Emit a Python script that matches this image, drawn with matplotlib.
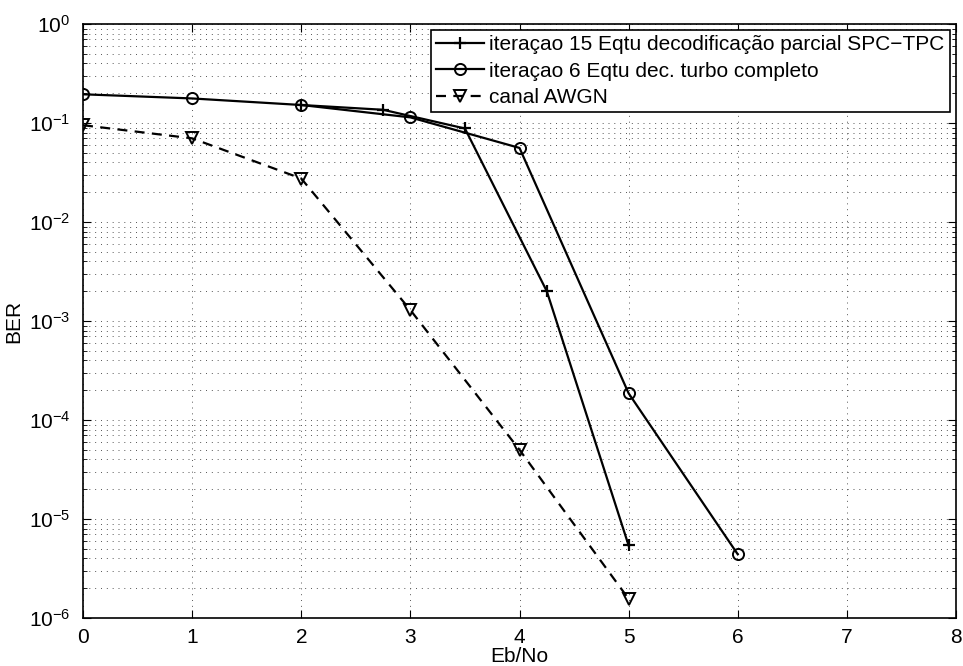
import matplotlib
matplotlib.use("Agg")
import matplotlib.pyplot as plt
from matplotlib.ticker import LogLocator, FixedLocator, NullFormatter

plt.rcParams['font.family'] = ['Liberation Sans', 'DejaVu Sans']
plt.rcParams['mathtext.fontset'] = 'custom'
plt.rcParams['mathtext.rm'] = 'Liberation Sans'
plt.rcParams['mathtext.it'] = 'Liberation Sans'
plt.rcParams['mathtext.default'] = 'regular'

# Data
x_spc = [2, 2.75, 3.5, 4.25, 5]
ber_spc = [0.152, 0.136, 0.088, 2.0e-3, 5.4e-6]

x_turbo = [0, 1, 2, 3, 4, 5, 6]
ber_turbo = [0.195, 0.177, 0.152, 0.114, 0.056, 1.86e-4, 4.4e-6]

x_awgn = [0, 1, 2, 3, 4, 5]
ber_awgn = [0.095, 0.070, 0.0275, 1.29e-3, 5.0e-5, 1.56e-6]

labels = ['iteraçao 15 Eqtu decodificação parcial SPC\u2212TPC',
          'iteraçao 6 Eqtu dec. turbo completo',
          'canal AWGN']

xticks = [0, 1, 2, 3, 4, 5, 6, 7, 8]
yticks = [1e-6, 1e-5, 1e-4, 1e-3, 1e-2, 1e-1, 1e0]
ytick_labels = ['$10^{-6}$', '$10^{-5}$', '$10^{-4}$', '$10^{-3}$', '$10^{-2}$', '$10^{-1}$', '$10^{0}$']

fig = plt.figure(figsize=(9.63, 6.66), dpi=100)
ax = fig.add_axes([83/963, 1 - 618/666, (956 - 83)/963, (618 - 24)/666])

ax.semilogy(x_spc, ber_spc, color='black', lw=1.6, marker='+', ms=9, mew=1.6, label=labels[0])
ax.semilogy(x_turbo, ber_turbo, color='black', lw=1.6, marker='o', ms=8, mfc='none', mew=1.4, label=labels[1])
ax.semilogy(x_awgn, ber_awgn, color='black', lw=1.6, ls=(0, (4.5, 3.3)), marker='v', ms=8, mfc='none', mew=1.4, label=labels[2])

ax.set_xlim(0, 8)
ax.set_ylim(1e-6, 1)
ax.set_xticks(xticks)
ax.set_xticklabels([str(t) for t in xticks])
ax.yaxis.set_major_locator(FixedLocator(yticks))
ax.set_yticklabels(ytick_labels)
ax.yaxis.set_minor_locator(LogLocator(base=10, subs=range(2, 10), numticks=20))
ax.yaxis.set_minor_formatter(NullFormatter())

ax.grid(True, which='major', ls=(0, (1, 5)), color='#555555', lw=0.7)
ax.grid(True, which='minor', axis='y', ls=(0, (1, 5)), color='#555555', lw=0.7)

ax.tick_params(which='both', direction='in', top=True, right=True, labelsize=15)
ax.tick_params(axis='x', which='major', pad=7)
ax.tick_params(axis='y', which='major', pad=9)
ax.tick_params(which='major', length=6, width=0.8)
ax.tick_params(which='minor', length=3, width=0.6)
for s in ax.spines.values():
    s.set_linewidth(1.2)

ax.set_xlabel('Eb/No', fontsize=15, labelpad=0)
ax.set_ylabel('BER', fontsize=15, labelpad=4)

leg = ax.legend(loc='upper right', fontsize=15, handlelength=2.3, handletextpad=0.25,
                borderaxespad=0.3, fancybox=False, framealpha=1, edgecolor='black',
                borderpad=0.25, labelspacing=0.35)
leg.get_frame().set_linewidth(1.2)

fig.savefig('out.png', dpi=100)
